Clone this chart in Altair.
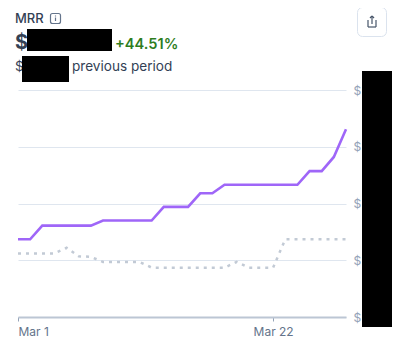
import altair as alt
import pandas as pd

days = [f"Mar {d}" for d in range(1, 29)]
current = [1.37, 1.37, 1.61, 1.61, 1.61, 1.61, 1.61, 1.70, 1.70, 1.70, 1.70, 1.70, 1.94, 1.94,
           1.94, 2.18, 2.18, 2.33, 2.33, 2.33, 2.33, 2.33, 2.33, 2.33, 2.57, 2.57, 2.82, 3.31]
previous = [1.12, 1.12, 1.12, 1.12, 1.22, 1.07, 1.06, 0.97, 0.97, 0.97, 0.97, 0.87, 0.87, 0.87,
            0.87, 0.87, 0.87, 0.87, 0.97, 0.87, 0.87, 0.87, 1.37, 1.37, 1.37, 1.37, 1.37, 1.37]
y_ticks = [0, 1, 2, 3, 4]
x_ticks = ["Mar 1", "Mar 22"]

OX, OY = 18, 90
FONT = "Inter"
W, H = 328, 227

df = pd.DataFrame({"day": days, "current": current, "previous": previous})
x = alt.X("day:N", sort=days, scale=alt.Scale(type="point", padding=0),
          axis=alt.Axis(values=x_ticks, title=None, labelAngle=0, labelFont=FONT, labelFontSize=12,
                        labelColor="#64748b", labelPadding=5, tickColor="#94a3b8", tickSize=4,
                        domainColor="#bcc6d4", domainWidth=2, grid=False,
                        labelAlign=alt.expr("datum.label == 'Mar 1' ? 'left' : 'center'")))
yscale = alt.Scale(domain=[0, 4])
base = alt.Chart(df)

prev_line = base.mark_line(color="#c2cad5", strokeWidth=2.5, strokeDash=[3, 5], interpolate="linear").encode(
    x=x,
    y=alt.Y("previous:Q", scale=yscale,
            axis=alt.Axis(orient="right", values=y_ticks, title=None, labelExpr="'$'", labelFont=FONT,
                          labelFontSize=12, labelColor="#94a3b8", labelPadding=7, ticks=False, domain=False,
                          grid=True, gridColor="#dfe6ef", gridWidth=1)),
)
cur_line = base.mark_line(color="#9f66f8", strokeWidth=2.6).encode(x=x, y=alt.Y("current:Q", scale=yscale))


def label(txt, px, py, size, color, weight=400):
    return alt.Chart(pd.DataFrame({"t": [txt]})).mark_text(
        align="left", baseline="alphabetic", font=FONT, fontSize=size, color=color, fontWeight=weight
    ).encode(x=alt.value(px - OX), y=alt.value(py - OY), text="t:N")


def box(x0, y0, x1, y1, **kw):
    return alt.Chart(pd.DataFrame({"a": [0]})).mark_rect(**kw).encode(
        x=alt.value(x0 - OX), x2=alt.value(x1 - OX), y=alt.value(y0 - OY), y2=alt.value(y1 - OY))


def seg(x0, y0, x1, y1, color="#475569", w=1.2):
    return alt.Chart(pd.DataFrame({"a": [0]})).mark_rule(color=color, strokeWidth=w).encode(
        x=alt.value(x0 - OX), x2=alt.value(x1 - OX), y=alt.value(y0 - OY), y2=alt.value(y1 - OY))


layers = [
    prev_line, cur_line,
    label("MRR", 15, 23, 13, "#334155", 500),
    box(50.5, 13.5, 60.5, 23.5, fill="white", stroke="#64748b", strokeWidth=1.2, cornerRadius=2),
    seg(55.5, 17.5, 55.5, 21, "#64748b", 1.2),
    seg(55.5, 15.5, 55.5, 16.5, "#64748b", 1.2),
    label("$", 15, 49, 20, "#334155", 700),
    label("+44.51%", 115, 49, 14.6, "#2e7d1e", 600),
    label("$", 15, 71, 13.6, "#334155"),
    label("previous period", 72, 71, 13.6, "#334155"),
    box(357.5, 7.5, 386.5, 36.5, fill="white", stroke="#dbe3ee", strokeWidth=1, cornerRadius=5),
    seg(368, 20, 368, 27, "#475569"), seg(376, 20, 376, 27, "#475569"),
    seg(368, 27, 376, 27, "#475569"), seg(372, 16, 372, 24, "#475569"),
    seg(370, 18, 372, 16, "#475569"), seg(372, 16, 374, 18, "#475569"),
    box(27, 29, 112, 51, fill="black"),
    box(22, 56, 69, 82, fill="black"),
    box(362, 71, 392, 327, fill="black"),
]

chart = alt.layer(*layers).resolve_scale(x="shared", y="shared").properties(
    width=W, height=H,
    padding={"left": OX - 8, "top": OY - 8, "right": 47, "bottom": 30},
    autosize=alt.AutoSizeParams(type="none"),
    background="white",
).configure_view(stroke=None)

chart.save("out.html", embed_options={"renderer": "svg", "actions": False})
